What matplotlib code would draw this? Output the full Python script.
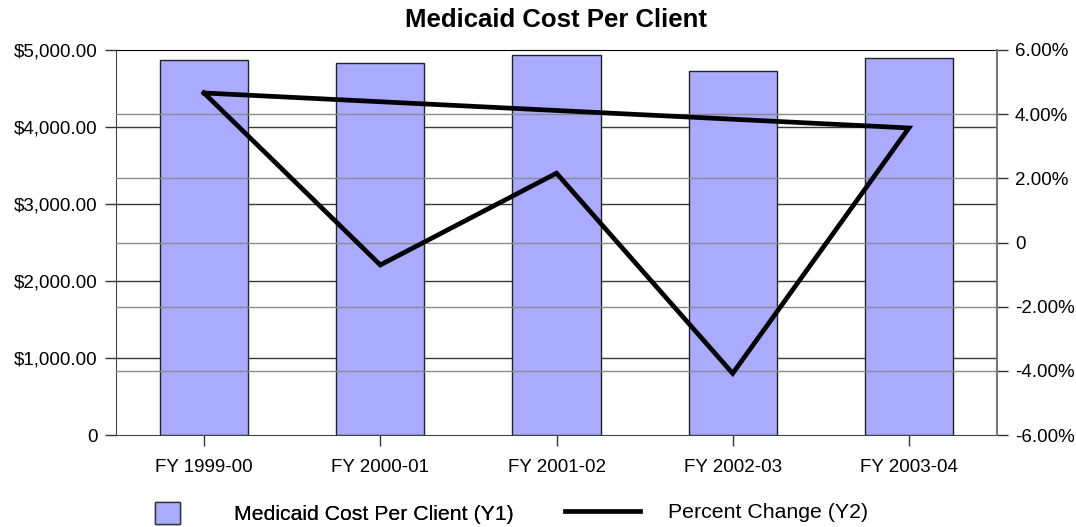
import matplotlib
matplotlib.use("Agg")
import matplotlib.pyplot as plt
import numpy as np
from matplotlib.patches import Patch
from matplotlib.lines import Line2D
from matplotlib.ticker import FuncFormatter

categories = ["FY 1999-00", "FY 2000-01", "FY 2001-02", "FY 2002-03", "FY 2003-04"]
cost_per_client = [4866, 4827, 4931, 4731, 4896]
percent_change = [4.66, -0.70, 2.16, -4.08, 3.57]
y1_ticks = [0, 1000, 2000, 3000, 4000, 5000]
y2_ticks = [-6, -4, -2, 0, 2, 4, 6]

plt.rcParams['font.family'] = ['Liberation Sans', 'DejaVu Sans']

fig = plt.figure(figsize=(10.76, 5.27), dpi=100)
ax = fig.add_axes([116/1076, 1-435/527, (997-116)/1076, (435-50)/527])
ax2 = ax.twinx()
ax.set_zorder(1)
ax2.set_zorder(2)
ax.patch.set_visible(True)
ax2.patch.set_visible(False)

x = np.arange(len(categories))

# gridlines
for t in y1_ticks[1:-1]:
    ax.axhline(t, color="#3a3a3a", lw=1.0, zorder=0)
for t in y2_ticks[1:-1]:
    ax2.axhline(t, color="#8a8a8a", lw=1.0, zorder=0)

ax.bar(x, cost_per_client, width=0.5, color="#AAAAFF", edgecolor="#222222",
       linewidth=1.0, zorder=3)

ax.set_xlim(-0.5, len(categories) - 0.5)
ax.set_ylim(0, 5000)
ax.set_yticks(y1_ticks)
ax.yaxis.set_major_formatter(FuncFormatter(lambda v, p: "0" if v == 0 else f"${v:,.2f}"))
ax.set_xticks(x)
ax.set_xticklabels(categories)

# line (closed back to first point as in reference)
lx = list(x) + [x[0]]
ly = list(percent_change) + [percent_change[0]]
ax2.plot(lx, ly, color="black", lw=3.4, solid_joinstyle="miter", zorder=5)
ax2.set_ylim(-6, 6)
ax2.set_yticks(y2_ticks)
ax2.yaxis.set_major_formatter(FuncFormatter(lambda v, p: "0" if v == 0 else f"{v:.2f}%"))

for a in (ax, ax2):
    a.tick_params(labelsize=13.5, length=8, width=1, color="#333333", pad=5)
    for s in a.spines.values():
        s.set_visible(False)
ax.tick_params(axis="x", pad=9)

ax.spines["left"].set_visible(True)
ax.spines["left"].set_color("#444444")
ax.spines["bottom"].set_visible(True)
ax.spines["bottom"].set_color("#444444")
ax.spines["top"].set_visible(True)
ax.spines["top"].set_color("black")
ax2.spines["right"].set_visible(True)
ax2.spines["right"].set_color("#777777")
ax2.spines["right"].set_linewidth(1.5)

fig.text(556/1076, 1-20/527, "Medicaid Cost Per Client", ha="center", va="center",
         fontsize=18.5, fontweight="bold")

fs = 15.3
em = fs * 100 / 72
leg1 = fig.legend(handles=[Patch(facecolor="#AAAAFF", edgecolor="#333333", label="Medicaid Cost Per Client (Y1)")],
                  loc="center left", bbox_to_anchor=(155/1076, 1-513/527), frameon=False,
                  fontsize=fs, handlelength=25/em, handleheight=25/em, handletextpad=54/em,
                  borderpad=0, borderaxespad=0)
fig.add_artist(leg1)
fig.legend(handles=[Line2D([], [], color="black", lw=3.4, label="Percent Change (Y2)")],
           loc="center left", bbox_to_anchor=(565/1076, 1-513/527), frameon=False,
           fontsize=fs, handlelength=75/em, handletextpad=28/em,
           borderpad=0, borderaxespad=0)

fig.savefig("out.png", dpi=100)
